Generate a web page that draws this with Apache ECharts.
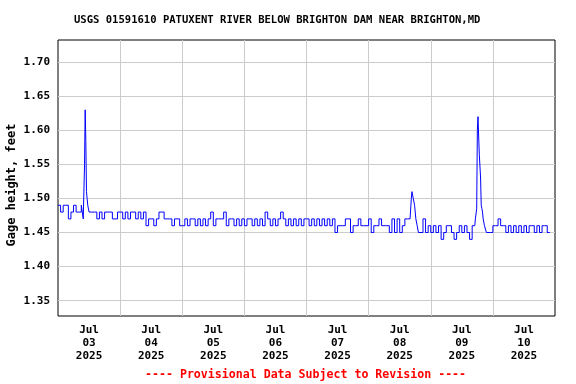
<!DOCTYPE html>
<html><head><meta charset="utf-8">
<script src="https://cdn.jsdelivr.net/npm/echarts@6/dist/echarts.min.js"></script>
<style>html,body{margin:0;padding:0;background:#fff}#c{width:576px;height:384px}</style>
</head><body><div id="c"></div>
<script>
const chartTitle = 'USGS 01591610 PATUXENT RIVER BELOW BRIGHTON DAM NEAR BRIGHTON,MD';
const yAxisName = 'Gage height, feet';
const footerText = '---- Provisional Data Subject to Revision ----';
const dayLabels = ['Jul\n03\n2025','Jul\n04\n2025','Jul\n05\n2025','Jul\n06\n2025','Jul\n07\n2025','Jul\n08\n2025','Jul\n09\n2025','Jul\n10\n2025'];

// hourly gage height readings, one array per day (hour 0..23)
const jul03 = [1.49,1.48,1.49,1.49,1.47,1.48,1.49,1.48,1.48,1.49,1.47,1.51,1.48,1.48,1.48,1.47,1.48,1.47,1.48,1.48,1.48,1.47,1.47,1.48];
const jul04 = [1.48,1.47,1.48,1.47,1.48,1.48,1.47,1.48,1.47,1.48,1.46,1.47,1.47,1.46,1.47,1.48,1.48,1.47,1.47,1.47,1.46,1.47,1.47,1.46];
const jul05 = [1.46,1.47,1.46,1.47,1.47,1.46,1.47,1.46,1.47,1.46,1.47,1.48,1.46,1.47,1.47,1.47,1.48,1.46,1.47,1.47,1.46,1.47,1.46,1.47];
const jul06 = [1.46,1.47,1.47,1.46,1.47,1.46,1.47,1.46,1.48,1.47,1.46,1.47,1.46,1.47,1.48,1.47,1.46,1.47,1.46,1.47,1.46,1.47,1.46,1.47];
const jul07 = [1.47,1.46,1.47,1.46,1.47,1.46,1.47,1.46,1.47,1.46,1.47,1.45,1.46,1.46,1.46,1.47,1.47,1.45,1.46,1.46,1.47,1.46,1.46,1.46];
const jul08 = [1.47,1.45,1.46,1.46,1.47,1.46,1.46,1.46,1.45,1.47,1.45,1.47,1.45,1.46,1.47,1.47,1.47,1.51,1.48,1.46,1.45,1.47,1.45,1.46];
const jul09 = [1.45,1.46,1.45,1.46,1.44,1.45,1.46,1.46,1.45,1.44,1.45,1.46,1.45,1.46,1.45,1.44,1.46,1.46,1.60,1.565,1.48,1.46,1.45,1.45];
const jul10 = [1.46,1.46,1.47,1.46,1.46,1.45,1.46,1.45,1.46,1.45,1.46,1.45,1.46,1.45,1.46,1.46,1.45,1.46,1.45,1.46,1.46,1.45,1.45];
const days = [jul03, jul04, jul05, jul06, jul07, jul08, jul09, jul10];

// 15-minute readings around the rises (hours within the given day)
const spike1Day = 0;
const spike1Hours  = [9.75,10.0,10.25,10.5,10.75,11.0,11.25,11.5,11.75,12.0];
const spike1Values = [1.47,1.47,1.55,1.63,1.585,1.51,1.50,1.49,1.49,1.48];
const spike2Day = 5;
const spike2Hours  = [16.25,16.5,16.75,17.0,17.25,17.5,17.75,18.0,18.25,18.5,18.75,19.0,19.25];
const spike2Values = [1.47,1.50,1.51,1.51,1.50,1.50,1.49,1.48,1.47,1.47,1.46,1.46,1.45];
const spike3Day = 6;
const spike3Hours  = [17.25,17.5,17.75,18.0,18.25,18.5,18.75,19.0,19.25,19.5,19.75,20.0,20.25,20.5,20.75,21.0,21.25,21.5];
const spike3Values = [1.47,1.47,1.485,1.60,1.62,1.62,1.565,1.565,1.53,1.49,1.485,1.48,1.47,1.47,1.46,1.46,1.46,1.45];

const pts = new Map();
days.forEach((arr, d) => arr.forEach((v, h) => pts.set(d * 24 + h, v)));
[[spike1Day, spike1Hours, spike1Values],[spike2Day, spike2Hours, spike2Values],[spike3Day, spike3Hours, spike3Values]]
  .forEach(([d, hs, vs]) => hs.forEach((h, i) => pts.set(d * 24 + h, vs[i])));
const seriesData = Array.from(pts.entries()).sort((a, b) => a[0] - b[0]);

const font = 'DejaVu Sans Mono';
const chart = echarts.init(document.getElementById('c'), null, {renderer: 'canvas'});
chart.setOption({
  animation: false,
  backgroundColor: '#ffffff',
  title: [
    {text: chartTitle, left: 74, top: 14, padding: 0,
     textStyle: {fontFamily: font, fontWeight: 'bold', fontSize: 10.55, color: '#000', lineHeight: 12}},
    {text: footerText, left: 145, top: 369, padding: 0,
     textStyle: {fontFamily: font, fontWeight: 'bold', fontSize: 11.6, color: '#ff0000', lineHeight: 12}}
  ],
  grid: {left: 58, right: 21, top: 40, bottom: 68, containLabel: false, outerBoundsMode: 'none',
    show: true, borderColor: '#000', borderWidth: 1, backgroundColor: 'transparent'},
  xAxis: [
    {type: 'value', min: 0, max: 192, interval: 24,
     axisLine: {show: false}, axisTick: {show: false}, axisLabel: {show: false},
     splitLine: {show: true, showMinLine: false, showMaxLine: false, lineStyle: {color: '#cccccc', width: 1}}},
    {type: 'value', min: 0, max: 192, interval: 12, position: 'bottom',
     axisLine: {show: false}, axisTick: {show: false}, splitLine: {show: false},
     axisLabel: {show: true, margin: 8, fontFamily: font, fontWeight: 'bold', fontSize: 11, lineHeight: 13, color: '#000',
       formatter: v => (Math.round(v) % 24 === 12) ? dayLabels[Math.round((v - 12) / 24)] : ''}}
  ],
  yAxis: {type: 'value', min: 1.3275, max: 1.7325, splitNumber: 8,
    name: yAxisName, nameLocation: 'middle', nameGap: 40, nameMoveOverlap: false,
    nameTextStyle: {fontFamily: font, fontWeight: 'bold', fontSize: 12, color: '#000', padding: [0, 14, 0, 0]},
    axisLine: {show: false}, axisTick: {show: false},
    axisLabel: {margin: 8, fontFamily: font, fontWeight: 'bold', fontSize: 11, color: '#000',
      showMinLabel: false, showMaxLabel: false,
      formatter: v => { const r = Math.round(v * 100); return (r % 5 === 0 && Math.abs(v * 100 - r) < 1e-6) ? v.toFixed(2) : ''; }},
    splitLine: {show: true, showMinLine: false, showMaxLine: false, lineStyle: {color: '#cccccc', width: 1}}},
  series: [{
    type: 'line', xAxisIndex: 0, data: seriesData, step: 'end', showSymbol: false,
    lineStyle: {color: '#0000ff', width: 1}, itemStyle: {color: '#0000ff'}, z: 5
  }]
});
</script>
</body></html>
